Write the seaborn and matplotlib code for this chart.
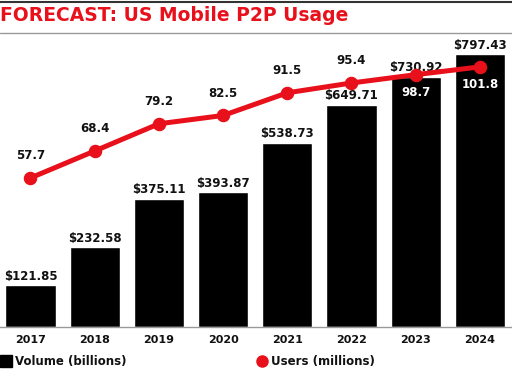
import matplotlib
matplotlib.use("Agg")
import matplotlib.pyplot as plt
import seaborn as sns
import pandas as pd
import numpy as np
from matplotlib.lines import Line2D

years = ["2017", "2018", "2019", "2020", "2021", "2022", "2023", "2024"]
volume = [121.85, 232.58, 375.11, 393.87, 538.73, 649.71, 730.92, 797.43]
users = [57.7, 68.4, 79.2, 82.5, 91.5, 95.4, 98.7, 101.8]
title = "FORECAST: US Mobile P2P Usage"
legend_labels = ["Volume (billions)", "Users (millions)"]

RED = "#e8101a"
sns.set_theme(style="white")
plt.rcParams["font.family"] = ["DejaVu Sans"]
FS = 8.5

df = pd.DataFrame({"year": years, "volume": volume, "users": users})

fig = plt.figure(figsize=(5.12, 3.81), dpi=100)
ax = fig.add_axes([0.0, 0.1417, 1.0, 0.882 - 0.1417])
sns.barplot(data=df, x="year", y="volume", color="black", width=0.78,
            saturation=1, ax=ax)
ax.set_ylim(0, 825)
ax.set_xlim(-0.475, 7.5)
ax.bar_label(ax.containers[0], labels=[f"${v:.2f}" for v in volume],
             padding=2, fontsize=FS, fontweight="bold", color="#111111")
for s in ["top", "left", "right"]:
    ax.spines[s].set_visible(False)
ax.spines["bottom"].set_color("#999999")
ax.spines["bottom"].set_linewidth(1)
ax.set_yticks([])
ax.set_xlabel("")
ax.set_ylabel("")
ax.tick_params(axis="x", length=0, pad=6, labelsize=8)
for t in ax.get_xticklabels():
    t.set_fontweight("bold")
    t.set_color("#111111")

ax2 = ax.twinx()
sns.pointplot(data=df, x="year", y="users", color=RED, markers="o",
              linestyles="-", markersize=7, linewidth=3.6, ax=ax2)
ax2.set_ylim(-1.5, 110.5)
ax2.set_xlim(-0.475, 7.5)
ax2.set_yticks([])
ax2.set_ylabel("")
for s in ["top", "left", "right", "bottom"]:
    ax2.spines[s].set_visible(False)
for i, u in enumerate(users):
    if i >= 6:
        ax2.annotate(f"{u}", (i, u), xytext=(0, -13), textcoords="offset points",
                     ha="center", va="center", color="white", fontsize=FS,
                     fontweight="bold")
    else:
        ax2.annotate(f"{u}", (i, u), xytext=(0, 16), textcoords="offset points",
                     ha="center", va="center", color="#111111", fontsize=FS,
                     fontweight="bold")

# header
fig.add_artist(Line2D([0, 1], [1 - 1.5 / 381, 1 - 1.5 / 381], color="#333333", lw=1.5))
fig.add_artist(Line2D([0, 1], [1 - 33 / 381, 1 - 33 / 381], color="#999999", lw=1))
fig.text(0.0, 1 - 15.5 / 381, title, color=RED, fontsize=13.5, fontweight="bold",
         ha="left", va="center")

h1 = Line2D([], [], marker="s", color="black", ls="", markersize=8)
h2 = Line2D([], [], marker="o", color=RED, ls="", markersize=8)
leg1 = fig.legend([h1], [legend_labels[0]], loc="center left",
                  bbox_to_anchor=(-0.02, 1 - 362 / 381), frameon=False,
                  fontsize=FS, handletextpad=0.2, handlelength=1)
leg2 = fig.legend([h2], [legend_labels[1]], loc="center left",
                  bbox_to_anchor=(0.48, 1 - 362 / 381), frameon=False,
                  fontsize=FS, handletextpad=0.2, handlelength=1)
for leg in (leg1, leg2):
    for t in leg.get_texts():
        t.set_fontweight("bold")
        t.set_color("#111111")

fig.savefig("out.png", dpi=100)
